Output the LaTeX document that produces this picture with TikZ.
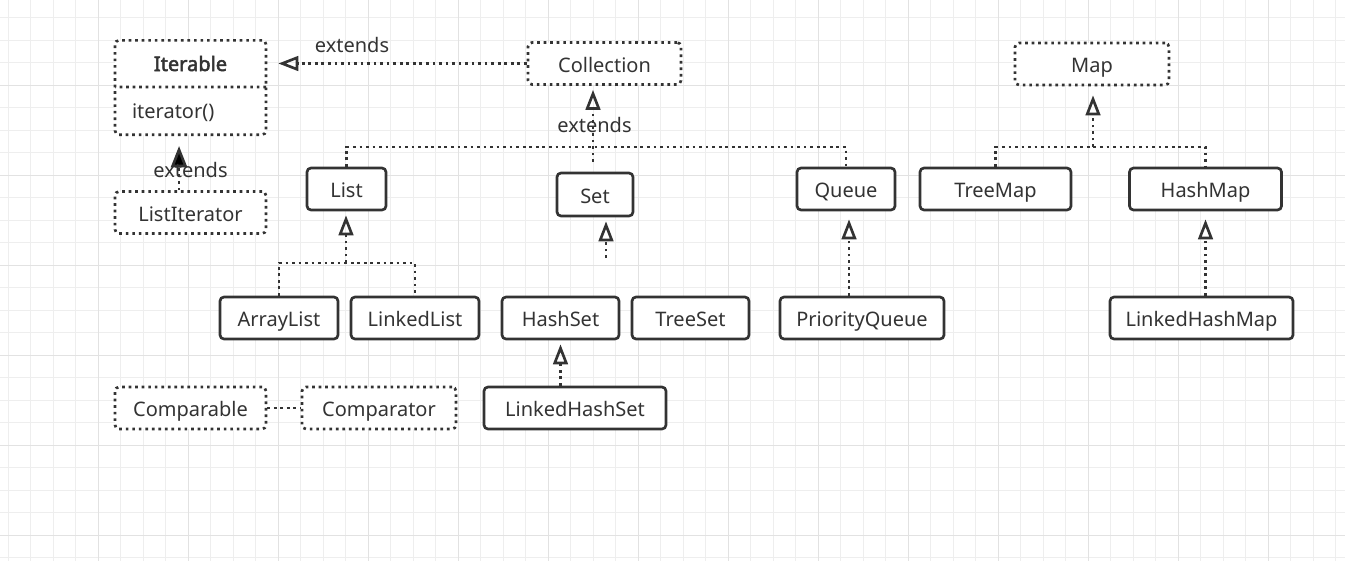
\documentclass[tikz,border=0pt]{standalone}
\usepackage{fontspec}
\setmainfont{Noto Sans}
\newfontfamily\headfont{Noto Sans}[FakeBold=2.5]
\usetikzlibrary{positioning}
\usetikzlibrary{arrows.meta}
\usetikzlibrary{shapes.multipart}
\definecolor{ink}{HTML}{333333}
\definecolor{gridminor}{HTML}{EEEEEE}
\definecolor{gridmajor}{HTML}{E2E2E2}

\begin{document}
\begin{tikzpicture}[x=0.75pt, y=-0.75pt, font=\fontsize{15}{18}\selectfont, text=ink,
	box/.style = {draw=ink, line width=2pt, rounded corners=3pt, fill=white, minimum height=31.5pt, inner sep=0pt, text height=12.8pt, text depth=0pt},
	iface/.style = {box, dash pattern=on 2pt off 2.9pt},
	dep/.style = {draw=ink, line width=2pt, dash pattern=on 2pt off 2.9pt},
	imp/.style = {-{Triangle[open, length=15pt, width=11pt, line width=2pt]}, shorten >=3pt},
	inh/.style = {-{Triangle[length=16pt, width=12pt]}, shorten >=7.5pt},
	lbl/.style = {inner sep=0pt}]
	% squared paper
	\useasboundingbox (0,0) rectangle (1345,561);
	\fill[white] (0,0) rectangle (1345,561);
	\foreach \k in {0,...,59}
		\draw[gridminor, line width=0.75pt] ({8+22.5*\k},0) -- ({8+22.5*\k},561);
	\foreach \k in {0,...,24}
		\draw[gridminor, line width=0.75pt] (0,{17.5+22.5*\k}) -- (1345,{17.5+22.5*\k});
	\foreach \k in {0,...,13}
		\draw[gridmajor, line width=0.75pt] ({98+90*\k},0) -- ({98+90*\k},561);
	\foreach \k in {0,...,5}
		\draw[gridmajor, line width=0.75pt] (0,{85+90*\k}) -- (1345,{85+90*\k});

	% interfaces
	\node[iface, rectangle split, rectangle split parts=2, rectangle split part align={center,left},
		minimum width=113.25pt, inner xsep=12.75pt, inner ysep=0pt, text height=, text depth=] (iter) at (190.5,87.5)
		{\rule[-11pt]{0pt}{33pt}{\headfont Iterable}\nodepart{two}\rule[-11.5pt]{0pt}{33.75pt}iterator()};
	\node[iface, minimum width=113.25pt] (liter) at (190.5,212.5) {ListIterator};
	\node[iface, minimum width=114.75pt] (coll) at (604.5,63.5) {Collection};
	\node[iface, minimum width=115.5pt] (map) at (1092,64) {Map};
	\node[iface, minimum width=113.25pt] (cmpble) at (190.5,408) {Comparable};
	\node[iface, minimum width=115.5pt] (cmptor) at (379,408) {Comparator};

	% second level
	\node[box, minimum width=59.25pt] (list) at (346.5,189) {List};
	\node[box, minimum width=57pt, minimum height=32.25pt] (set) at (595,194.5) {Set};
	\node[box, minimum width=73.5pt] (queue) at (846,189) {Queue};
	\node[box, minimum width=113.25pt] (tmap) at (995.5,189) {TreeMap};
	\node[box, minimum width=114pt] (hmap) at (1205.5,189) {HashMap};

	% implementations
	\node[box, minimum width=88.5pt] (alist) at (279,318) {ArrayList};
	\node[box, minimum width=96pt] (llist) at (415,318) {LinkedList};
	\node[box, minimum width=87.75pt] (hset) at (560.5,318) {HashSet};
	\node[box, minimum width=87.75pt] (tset) at (690.5,318) {TreeSet};
	\node[box, minimum width=123pt] (pq) at (862,318) {PriorityQueue};
	\node[box, minimum width=137.25pt] (lhm) at (1201.5,318) {LinkedHashMap};
	\node[box, minimum width=136.5pt] (lhs) at (575,408) {LinkedHashSet};

	\coordinate (collbar) at (593,147);
	\coordinate (setjoin) at (593,162);
	\coordinate (setstub) at (606,258);
	\coordinate (listbar) at (346,263);
	\coordinate (mapbar) at (1093,147);
	\coordinate (pqup) at ([xshift=-9.75pt]pq.north);

	% Collection -> Iterable
	\draw[dep, imp, shorten >=8.25pt] (coll.west) -- (coll.west -| iter.east);
	\node[lbl] (ext1) at (352,45) {extends};
	% ListIterator -> Iterable
	\draw[dep, inh] ([xshift=-8.6pt]liter.north) -- ([xshift=-8.6pt]iter.south);
	\node[lbl] (ext2) at (190.5,170) {extends};
	% List, Set, Queue -> Collection
	\draw[dep] (list.north) |- (collbar) -| (queue.north);
	\draw[dep, imp] (setjoin) -- (setjoin |- coll.south);
	\node[lbl] (ext3) at (594.5,125) {extends};
	\draw[dep, imp] (setstub) -- (setstub |- set.south);
	% lists
	\draw[dep] (alist.north) |- (listbar) -| (llist.north);
	\draw[dep, imp] (listbar) -- (listbar |- list.south);
	% sets, queues
	\draw[dep, imp] (lhs.north -| hset.south) -- (hset.south);
	\draw[dep, imp, shorten >=6pt] (pqup) -- (pqup |- queue.south);
	% maps
	\draw[dep] (tmap.north) |- (mapbar) -| (hmap.north);
	\draw[dep, imp, shorten >=6.75pt] (mapbar) -- (mapbar |- map.south);
	\draw[dep, imp, shorten >=6pt] (lhm.north -| hmap.south) -- (hmap.south);
	% Comparable .. Comparator
	\draw[dep] (cmpble.east) -- (cmptor.west);
\end{tikzpicture}
\end{document}
